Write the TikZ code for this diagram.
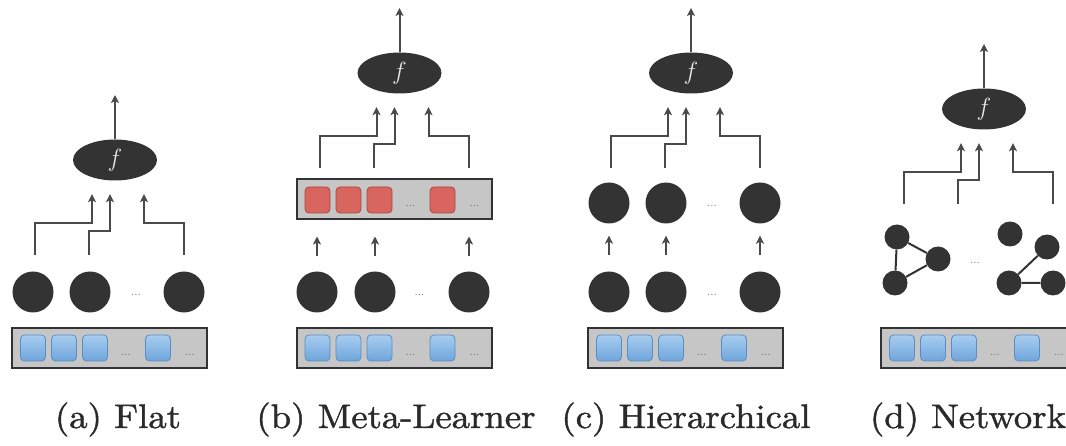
\documentclass[tikz,border=0pt]{standalone}
\usepackage{fontspec}
\usetikzlibrary{shapes.geometric,arrows.meta,calc}
\newfontfamily\capfont{lmroman10-regular.otf}[FakeBold=1.2]

\definecolor{ink}{HTML}{333333}
\definecolor{wire}{HTML}{4A4A4A}
\definecolor{barfill}{HTML}{C6C6C6}
\definecolor{bluetop}{HTML}{A8CDF0}
\definecolor{bluebot}{HTML}{6FA5DB}
\definecolor{blueedge}{HTML}{5A8DC2}
\definecolor{redfill}{HTML}{D8665E}
\definecolor{rededge}{HTML}{A9473F}
\definecolor{dotgray}{HTML}{666666}
\definecolor{captext}{HTML}{2A2A2A}

\newcommand{\captext}[1]{\scalebox{1.08}[1]{#1}}

\tikzset{
  unit/.style={circle, fill=ink, minimum size=41pt, inner sep=0pt},
  gnode/.style={circle, fill=ink, minimum size=25pt, inner sep=0pt},
  gedge/.style={draw=ink, line width=2pt},
  combiner/.style={ellipse, fill=ink, minimum width=84pt, minimum height=41pt,
    inner sep=0pt, text=gray!20, font=\fontsize{28}{28}\selectfont},
  featbar/.style={draw=ink, line width=2pt, fill=barfill,
    minimum width=195pt, minimum height=40pt, inner sep=0pt},
  bluecell/.style={draw=blueedge, line width=0.8pt, rounded corners=4pt,
    top color=bluetop, bottom color=bluebot,
    minimum width=25pt, minimum height=26pt, inner sep=0pt},
  redcell/.style={draw=rededge, line width=0.8pt, rounded corners=4pt,
    fill=redfill, minimum width=25pt, minimum height=26pt, inner sep=0pt},
  dots/.style={text=dotgray, font=\fontsize{12}{12}\selectfont, inner sep=0pt},
  conn/.style={draw=wire, line width=2pt,
    -{Stealth[length=8pt,width=8pt,inset=2pt]}},
  caption/.style={font=\capfont\fontsize{34}{40}\selectfont, text=captext, anchor=base}
}

\begin{document}
\begin{tikzpicture}[x=1pt,y=-1pt]
\useasboundingbox (0,0) rectangle (1066,446);
\clip (0,0) rectangle (1066,446);

% parts shared by all four panels: input feature bar, combiner f and its wiring
\foreach \p/\dx/\E in {a/0/160, b/284.5/73, c/576/73, d/869/109}{
  \begin{scope}[xshift=\dx pt]
    \node[featbar] (\p-bar) at (109.5,348.5) {};
    \node[bluecell] (\p-x1) at (33,348) {};
    \node[bluecell] (\p-x2) at (64,348) {};
    \node[bluecell] (\p-x3) at (95,348) {};
    \node[bluecell] (\p-x4) at (158,348) {};
    \node[dots] (\p-xd1) at (126,355) {...};
    \node[dots] (\p-xd2) at (190,355) {...};
    \node[combiner] (\p-f) at (115,\E) {$f$};
    \coordinate (\p-out) at (115,\E-65);
    \draw[conn] (\p-f) -- (\p-out);
    \coordinate (\p-s1) at (35,\E+95);
    \coordinate (\p-s2) at (89,\E+95);
    \coordinate (\p-s3) at (184,\E+95);
    \draw[conn] (\p-s1) -- ++(0,-32) -| ([xshift=-23pt,yshift=-13.5pt]\p-f.south);
    \draw[conn] (\p-s2) -- ++(0,-24) -| ([xshift=-5pt,yshift=-13.5pt]\p-f.south);
    \draw[conn] (\p-s3) -- ++(0,-32) -| ([xshift=29pt,yshift=-13.5pt]\p-f.south);
  \end{scope}
}

% (a) flat: base classifiers
\node[unit] (a-u1) at (33,292) {};
\node[unit] (a-u2) at (90,292) {};
\node[unit] (a-u3) at (184,292) {};
\node[dots] (a-ud) at (136,295) {...};

% (b) meta-learner: base classifiers feed a meta feature bar
\begin{scope}[xshift=284.5pt]
  \node[featbar] (b-meta) at (109.5,199.5) {};
  \node[redcell] (b-m1) at (33,200) {};
  \node[redcell] (b-m2) at (64,200) {};
  \node[redcell] (b-m3) at (95,200) {};
  \node[redcell] (b-m4) at (158,200) {};
  \node[dots] (b-md1) at (126,206) {...};
  \node[dots] (b-md2) at (190,206) {...};
  \node[unit] (b-u1) at (32.5,292) {};
  \node[unit] (b-u2) at (90.5,292) {};
  \node[unit] (b-u3) at (184.5,292) {};
  \node[dots] (b-ud) at (135,295) {...};
  \foreach \i in {1,2,3}{
    \draw[conn] ($(b-u\i.north)+(0,-15)$) -- ($(b-u\i.north |- b-meta.south)+(0,16)$);
  }
\end{scope}

% (c) hierarchical: two layers of classifiers
\begin{scope}[xshift=576pt]
  \node[unit] (c-v1) at (33,203) {};
  \node[unit] (c-v2) at (90,203) {};
  \node[unit] (c-v3) at (184,203) {};
  \node[dots] (c-vd) at (136,206) {...};
  \node[unit] (c-u1) at (33,292) {};
  \node[unit] (c-u2) at (90,292) {};
  \node[unit] (c-u3) at (184,292) {};
  \node[dots] (c-ud) at (136,295) {...};
  \foreach \i in {1,2,3}{
    \draw[conn] ($(c-u\i.north)+(0,-16)$) -- ($(c-v\i.south)+(0,12)$);
  }
\end{scope}

% (d) network: small graphs of classifiers
\begin{scope}[xshift=869pt]
  \node[gnode] (d-g1) at (28,237) {};
  \node[gnode] (d-g2) at (69,259) {};
  \node[gnode] (d-g3) at (26,283) {};
  \draw[gedge] (d-g1) -- (d-g2) -- (d-g3) -- (d-g1);
  \node[dots] (d-gd) at (106,263) {...};
  \node[gnode] (d-h1) at (141,234) {};
  \node[gnode] (d-h2) at (178,247) {};
  \node[gnode] (d-h3) at (140,283) {};
  \node[gnode] (d-h4) at (184,283) {};
  \draw[gedge] (d-h2) -- (d-h3) -- (d-h4);
\end{scope}

% captions
\node[caption] (cap-a) at (118,428) {\captext{(a) Flat}};
\node[caption] (cap-b) at (396,428) {\captext{(b) Meta-Learner}};
\node[caption] (cap-c) at (686,428) {\captext{(c) Hierarchical}};
\node[caption] (cap-d) at (968,428) {\captext{(d) Network}};
\end{tikzpicture}
\end{document}
